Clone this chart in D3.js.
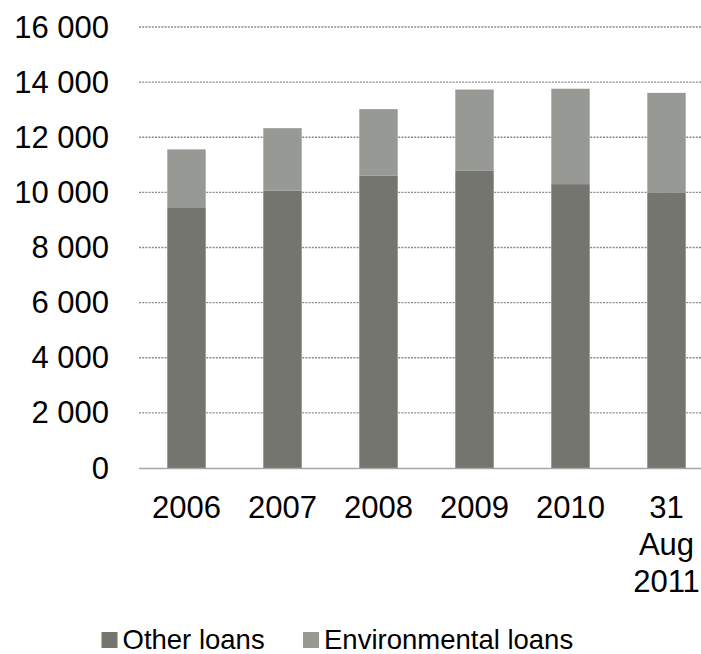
<!DOCTYPE html>
<html>
<head>
<meta charset="utf-8">
<script src="https://cdn.jsdelivr.net/npm/d3@7"></script>
<style>
  body { margin: 0; background: #fff; }
  svg { display: block; font-family: "Liberation Sans", Arial, sans-serif; }
</style>
</head>
<body>
<svg id="chart"></svg>
<script>
const WIDTH = 701;
const HEIGHT = 654;

const categories = [["2006"], ["2007"], ["2008"], ["2009"], ["2010"], ["31", "Aug", "2011"]];
const otherLoans = [9460, 10060, 10600, 10780, 10300, 9980];
const environmentalLoans = [2100, 2270, 2420, 2950, 3460, 3630];
const yTicks = [0, 2000, 4000, 6000, 8000, 10000, 12000, 14000, 16000];
const seriesNames = ["Other loans", "Environmental loans"];
const seriesColors = ["#73756e", "#979994"];

const SVG = d3.select("#chart").attr("width", WIDTH).attr("height", HEIGHT);

const keys = categories.map((c) => c.join(" "));
const rows = keys.map((k, i) => ({ key: k, other: otherLoans[i], env: environmentalLoans[i] }));
const stack = d3.stack().keys(["other", "env"])(rows);

const x = d3.scaleBand().domain(keys).range([138.5, 714.5]).paddingInner(0.6).paddingOuter(0.3);
const y = d3.scaleLinear().domain([0, 16000]).range([468, 27]);

// gridlines
SVG.append("g")
  .selectAll("line")
  .data(yTicks.filter((d) => d > 0))
  .join("line")
  .attr("x1", 139)
  .attr("x2", WIDTH)
  .attr("y1", (d) => y(d))
  .attr("y2", (d) => y(d))
  .attr("stroke", "#8a8a8a")
  .attr("stroke-width", 1.3)
  .attr("stroke-dasharray", "2,1.2");

// y labels
SVG.append("g")
  .selectAll("text")
  .data(yTicks)
  .join("text")
  .attr("x", 109)
  .attr("y", (d) => y(d))
  .attr("text-anchor", "end")
  .attr("dominant-baseline", "central")
  .attr("font-size", 31)
  .attr("fill", "#000")
  .text((d) => d3.format(",")(d).replace(/,/g, " "));

// bars
SVG.append("g")
  .selectAll("g")
  .data(stack)
  .join("g")
  .attr("fill", (_, i) => seriesColors[i])
  .selectAll("rect")
  .data((d) => d)
  .join("rect")
  .attr("x", (d) => x(d.data.key))
  .attr("width", x.bandwidth())
  .attr("y", (d) => y(d[1]))
  .attr("height", (d) => y(d[0]) - y(d[1]));

// axis line
SVG.append("line")
  .attr("x1", 139)
  .attr("x2", WIDTH)
  .attr("y1", 468.5)
  .attr("y2", 468.5)
  .attr("stroke", "#a6a6a6")
  .attr("stroke-width", 1.5);

// x labels
SVG.append("g")
  .selectAll("text")
  .data(categories)
  .join("text")
  .attr("text-anchor", "middle")
  .attr("font-size", 31)
  .attr("fill", "#000")
  .attr("transform", (d) => `translate(${x(d.join(" ")) + x.bandwidth() / 2}, 518)`)
  .selectAll("tspan")
  .data((d) => d)
  .join("tspan")
  .attr("x", 0)
  .attr("y", (_, i) => i * 37)
  .text((d) => d);

// legend
const legendX = [101.5, 303];
const legend = SVG.append("g")
  .selectAll("g")
  .data(seriesNames)
  .join("g")
  .attr("transform", (_, i) => `translate(${legendX[i]}, 632)`);
legend.append("rect")
  .attr("width", 16)
  .attr("height", 16)
  .attr("fill", (_, i) => seriesColors[i]);
legend.append("text")
  .attr("x", 21)
  .attr("y", 17)
  .attr("font-size", 27.5)
  .attr("fill", "#000")
  .text((d) => d);
</script>
</body>
</html>
